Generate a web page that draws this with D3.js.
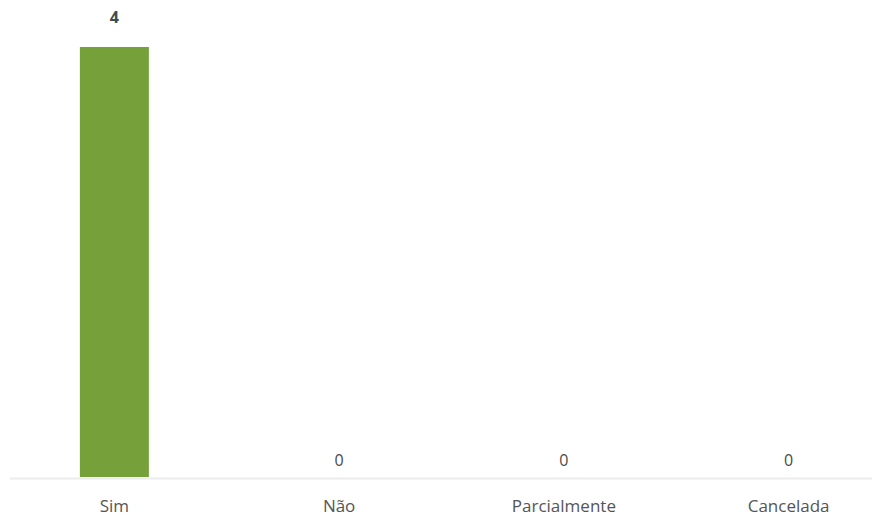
<!DOCTYPE html>
<html>
<head>
<meta charset="utf-8">
<script src="https://cdn.jsdelivr.net/npm/d3@7"></script>
<style>
  body { margin: 0; background: #fff; overflow: hidden; }
  svg { display: block; font-family: "Open Sans", "Noto Sans", sans-serif; }
</style>
</head>
<body>
<svg id="chart" width="872" height="518"></svg>
<script>
const categories = ["Sim", "Não", "Parcialmente", "Cancelada"];
const values = [4, 0, 0, 0];

const width = 872, height = 518;
const baseY = 477, topY = 47;

const svg = d3.select("#chart");

const x = d3.scaleBand()
    .domain(categories)
    .range([2, 901])
    .paddingInner(0.693)
    .paddingOuter(0.3465);

const y = d3.scaleLinear()
    .domain([0, d3.max(values)])
    .range([baseY, topY]);

const data = categories.map((c, i) => ({ cat: c, val: values[i] }));

// bars
svg.selectAll(".bar")
    .data(data)
    .enter()
    .append("rect")
    .attr("class", "bar")
    .attr("x", d => x(d.cat))
    .attr("y", d => y(d.val))
    .attr("width", x.bandwidth())
    .attr("height", d => baseY - y(d.val))
    .attr("fill", "#76a13a");

// baseline
svg.append("line")
    .attr("x1", 10)
    .attr("x2", width)
    .attr("y1", baseY + 1.5)
    .attr("y2", baseY + 1.5)
    .attr("stroke", "#ececec")
    .attr("stroke-width", 2);

// value labels (zeros sit just above the baseline)
svg.selectAll(".val")
    .data(data)
    .enter()
    .append("text")
    .attr("class", "val")
    .attr("x", d => x(d.cat) + x.bandwidth() / 2)
    .attr("y", d => d.val > 0 ? y(d.val) - 24 : y(d.val) - 11)
    .attr("text-anchor", "middle")
    .attr("font-size", 16)
    .attr("font-weight", d => d.val > 0 ? "bold" : "normal")
    .attr("fill", d => d.val > 0 ? "#3b4d4b" : "#4a4a4a")
    .text(d => d.val);

// category labels
svg.selectAll(".cat")
    .data(data)
    .enter()
    .append("text")
    .attr("class", "cat")
    .attr("x", d => x(d.cat) + x.bandwidth() / 2)
    .attr("y", 512)
    .attr("text-anchor", "middle")
    .attr("font-size", 17)
    .attr("fill", "#555")
    .text(d => d.cat);
</script>
</body>
</html>
